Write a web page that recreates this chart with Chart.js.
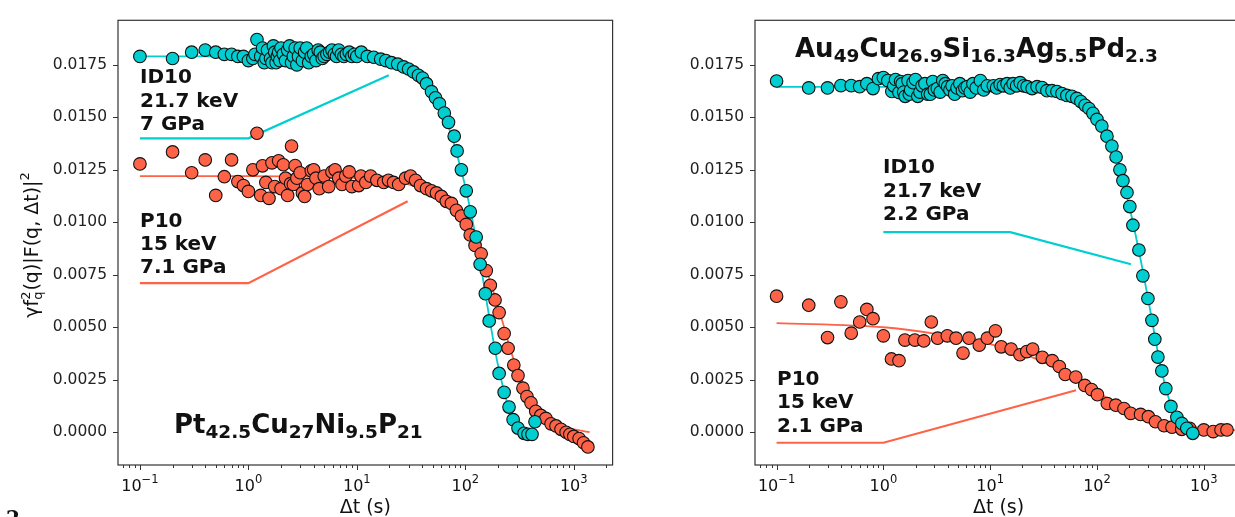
<!DOCTYPE html>
<html>
<head>
<meta charset="utf-8">
<script src="https://cdn.jsdelivr.net/npm/chart.js@4.4.1/dist/chart.umd.min.js"></script>
<style>
    html, body { margin: 0; padding: 0; background: #fff; overflow: hidden; }
    body { width: 1235px; height: 517px; position: relative; }
    #leftChart { position: absolute; left: 0; top: 0; }
    #rightChart { position: absolute; left: 620px; top: 0; }
</style>
</head>
<body>
<canvas id="leftChart" width="620" height="517" style="width:620px;height:517px"></canvas>
<canvas id="rightChart" width="635" height="517" style="width:635px;height:517px"></canvas>
<script>
// ========================================
// DATA
// ========================================

// Left panel: Pt42.5Cu27Ni9.5P21, ID10 (cyan)
const leftId10T = [0.1, 0.2, 0.3, 0.4, 0.5, 0.6, 0.7, 0.8, 0.9, 1.0, 1.1, 1.15, 1.2, 1.3, 1.35, 1.4, 1.45, 1.5, 1.6, 1.65,
    1.7, 1.75, 1.8, 1.85, 1.9, 1.95, 2.0, 2.1, 2.2, 2.3, 2.4, 2.5, 2.6, 2.7, 2.8, 2.9, 3.0, 3.15, 3.3, 3.45,
    3.6, 3.8, 4.0, 4.2, 4.4, 4.6, 4.8, 5.0, 5.3, 5.6, 5.9, 6.2, 6.5, 6.8, 7.2, 7.6, 8.0, 8.5, 9.0, 9.5,
    10, 11, 12.5, 14.3, 16.6, 18.5, 20.9, 23.8, 27.0, 30.0, 33.3, 37.0, 40.3, 43.9, 48.8, 53.1, 57.7, 64, 70, 79,
    84, 92, 102, 111, 126, 137, 153, 166, 189, 205, 228, 253, 276, 306, 348, 378, 412, 439];
const leftId10V = [0.0179, 0.0178, 0.0181, 0.0182, 0.0181, 0.0180, 0.0180, 0.0179, 0.0179, 0.0177, 0.0178, 0.0180, 0.0187, 0.0179, 0.0183, 0.0176, 0.0178, 0.0182, 0.0178, 0.0176,
    0.0184, 0.0181, 0.0176, 0.0179, 0.0181, 0.0177, 0.0183, 0.0180, 0.0177, 0.0182, 0.0184, 0.0176, 0.0179, 0.0183, 0.0175, 0.0179, 0.0183, 0.0177, 0.0181, 0.0183,
    0.0176, 0.0179, 0.0180, 0.0177, 0.0182, 0.0181, 0.0178, 0.0179, 0.0180, 0.0181, 0.0182, 0.0180, 0.0179, 0.0182, 0.0180, 0.0179, 0.0180, 0.0181, 0.0179, 0.0180,
    0.0179, 0.0181, 0.0179, 0.01786, 0.01777, 0.0177, 0.0176, 0.01753, 0.0174, 0.0173, 0.01716, 0.0170, 0.01687, 0.0166, 0.01622, 0.01593, 0.01565, 0.0152, 0.01476, 0.0141,
    0.0134, 0.0125, 0.0115, 0.0105, 0.0093, 0.0080, 0.0066, 0.0053, 0.0040, 0.0028, 0.0019, 0.0012, 0.0006, 0.0002, -0.00005, -0.0001, -0.0001, 0.0005];

// Left panel: P10 (orange)
const leftP10T = [0.1, 0.2, 0.3, 0.4, 0.5, 0.6, 0.7, 0.8, 0.9, 1.0, 1.1, 1.2, 1.3, 1.35, 1.45, 1.55, 1.65, 1.75, 1.9, 2.0,
    2.1, 2.2, 2.3, 2.45, 2.5, 2.6, 2.7, 2.8, 3.0, 3.15, 3.3, 3.5, 3.8, 4.0, 4.2, 4.5, 5.0, 5.5, 5.9, 6.3,
    6.8, 7.3, 7.9, 8.5, 9.0, 10.4, 10.9, 12.1, 13.4, 15.3, 17.7, 19.6, 21.8, 24.3, 28.1, 31.3, 34.8, 38.6, 43.9, 48.8,
    54.2, 60.2, 66.8, 74.5, 82.7, 92, 102, 111, 123, 140, 156, 170, 188, 205, 228, 248, 280, 306, 340, 370,
    403, 446, 497, 553, 617, 686, 763, 850, 920, 1000, 1120, 1230, 1350];
const leftP10V = [0.01278, 0.01335, 0.01236, 0.01297, 0.01128, 0.01217, 0.01297, 0.01194, 0.01175, 0.01147, 0.01250, 0.01424, 0.01128, 0.01269, 0.0119, 0.01114, 0.01283, 0.0117, 0.01293, 0.0116,
    0.01274, 0.0121, 0.01128, 0.01184, 0.01363, 0.0118, 0.0127, 0.0121, 0.01236, 0.0114, 0.01123, 0.0118, 0.01245, 0.0125, 0.0121, 0.0116, 0.0122, 0.0117, 0.0124, 0.0125,
    0.0121, 0.0118, 0.0122, 0.0124, 0.0117, 0.01175, 0.0122, 0.0119, 0.0122, 0.0120, 0.0119, 0.0120, 0.0119, 0.0118, 0.0121, 0.0122, 0.0120, 0.01175, 0.0116, 0.0115,
    0.0114, 0.01123, 0.0110, 0.0109, 0.01057, 0.0103, 0.0099, 0.0094, 0.0089, 0.0085, 0.0077, 0.0070, 0.0063, 0.0057, 0.0047, 0.0040, 0.0032, 0.0027, 0.0021, 0.0017,
    0.0014, 0.0010, 0.0008, 0.00066, 0.0004, 0.0003, 0.00014, 0.0, -0.0001, -0.0002, -0.0003, -0.0005, -0.0007];

// Left panel fit curves
const leftId10FitT = [0.1, 1, 10, 20, 40, 60, 80, 100, 130, 160, 200, 250, 300, 400, 450];
const leftId10FitV = [0.0179, 0.0179, 0.01785, 0.0177, 0.0168, 0.0155, 0.0136, 0.0117, 0.0088, 0.0060, 0.0032, 0.0012, 0.0003, 0.0, 0.0];
const leftP10FitT = [0.1, 1, 10, 30, 60, 100, 150, 200, 300, 500, 800, 1400];
const leftP10FitV = [0.0122, 0.0122, 0.0121, 0.0118, 0.0111, 0.0099, 0.0080, 0.0060, 0.0030, 0.0010, 0.0003, 0.0];

// Left panel leader lines
const leftId10LeadT = [0.1, 1.0, 19.7];
const leftId10LeadV = [0.0140, 0.0140, 0.0170];
const leftP10LeadT = [0.1, 1.0, 29.4];
const leftP10LeadV = [0.0071, 0.0071, 0.0110];

// Right panel: Au49Cu26.9Si16.3Ag5.5Pd2.3, ID10 (cyan)
const rightId10T = [0.1, 0.2, 0.3, 0.4, 0.5, 0.6, 0.7, 0.8, 0.9, 1.0, 1.1, 1.2, 1.25, 1.3, 1.4, 1.45, 1.5, 1.55, 1.6, 1.7,
    1.75, 1.8, 1.9, 2.0, 2.1, 2.2, 2.3, 2.45, 2.6, 2.75, 2.9, 3.0, 3.2, 3.4, 3.6, 3.8, 4.0, 4.2, 4.4, 4.65,
    4.9, 5.2, 5.5, 5.8, 6.1, 6.5, 6.9, 7.4, 8.1, 8.7, 9.4, 10.7, 11.5, 12.4, 13.3, 14.4, 15.4, 16.4, 17.7, 19.1,
    20.6, 22.2, 24.7, 27.5, 30.6, 34, 37.9, 42.2, 47, 52.3, 58.2, 64.8, 70.7, 77.5, 84.2, 91.7, 100, 111, 124, 138,
    151, 164, 175, 191, 203, 217, 247, 269, 300, 327, 348, 372, 405, 441, 492, 560, 623, 694, 789];
const rightId10V = [0.01673, 0.0164, 0.0164, 0.01651, 0.01651, 0.01646, 0.0166, 0.01637, 0.01684, 0.01689, 0.01675, 0.01623, 0.0165, 0.0168, 0.01618, 0.0167, 0.0166, 0.0162, 0.0160, 0.01675,
    0.0161, 0.0163, 0.01665, 0.0168, 0.0160, 0.0162, 0.0165, 0.0166, 0.0161, 0.0161, 0.0167, 0.0163, 0.01637, 0.0162, 0.01675, 0.0166, 0.01646, 0.0163, 0.0165, 0.0161,
    0.0164, 0.0166, 0.01627, 0.0164, 0.01646, 0.0162, 0.0166, 0.0164, 0.01675, 0.0163, 0.0165, 0.0165, 0.0164, 0.01656, 0.0165, 0.0166, 0.0164, 0.0166, 0.0165, 0.01665,
    0.0165, 0.01646, 0.01637, 0.01646, 0.01642, 0.01627, 0.01627, 0.01623, 0.01613, 0.01604, 0.0160, 0.0159, 0.01575, 0.01557, 0.01542, 0.01519, 0.0149, 0.01458, 0.0141, 0.01363,
    0.01311, 0.0125, 0.01198, 0.01142, 0.01075, 0.00986, 0.00868, 0.00745, 0.00637, 0.00533, 0.00443, 0.00358, 0.00292, 0.00208, 0.00123, 0.00071, 0.00042, 0.00019, -0.00005];

// Right panel: P10 (orange)
const rightP10T = [0.1, 0.2, 0.3, 0.4, 0.5, 0.6, 0.7, 0.8, 1.0, 1.19, 1.40, 1.59, 1.97, 2.39, 2.81, 3.22, 3.97, 4.79, 5.57, 6.33,
    7.9, 9.4, 11.2, 12.7, 15.7, 19.0, 22.0, 25.0, 30.8, 38.1, 44.4, 50.4, 63.3, 76.9, 88.9, 101, 125, 150, 179, 207,
    256, 303, 353, 425, 504, 622, 738, 1000, 1225, 1450, 1650];
const rightP10V = [0.00648, 0.00605, 0.00451, 0.00621, 0.00472, 0.00525, 0.00585, 0.00541, 0.00459, 0.00349, 0.00341, 0.00439, 0.00439, 0.00435, 0.00525, 0.00448, 0.00459, 0.00448, 0.00377, 0.00448,
    0.00415, 0.00448, 0.00483, 0.00407, 0.00396, 0.00369, 0.00384, 0.00396, 0.00357, 0.00341, 0.00313, 0.00275, 0.00263, 0.00223, 0.00203, 0.00179, 0.00137, 0.00129, 0.00113, 0.0009,
    0.00085, 0.00074, 0.0005, 0.00031, 0.00024, 0.00014, 0.00019, 0.00011, 0.00003, 0.00011, 0.00011];

// Right panel fit curves
const rightId10FitT = [0.1, 1, 10, 30, 60, 100, 150, 200, 250, 300, 400, 500, 600, 800];
const rightId10FitV = [0.01645, 0.01645, 0.01643, 0.0162, 0.0158, 0.0150, 0.0132, 0.0108, 0.0085, 0.0064, 0.0030, 0.0012, 0.0004, 0.0];
const rightP10FitT = [0.1, 1, 3, 10, 30, 100, 300, 1000, 2000];
const rightP10FitV = [0.0052, 0.0050, 0.0047, 0.0042, 0.0034, 0.0019, 0.0007, 0.0002, 0.0001];

// Right panel leader lines
const rightId10LeadT = [1.0, 15.4, 208];
const rightId10LeadV = [0.00953, 0.00953, 0.0080];
const rightP10LeadT = [0.1, 1.0, 63.7];
const rightP10LeadV = [-0.0005, -0.0005, 0.0020];

// Axes
const yTicks = [0, 0.0025, 0.005, 0.0075, 0.01, 0.0125, 0.015, 0.0175];
const yTickLabels = ['0.0000', '0.0025', '0.0050', '0.0075', '0.0100', '0.0125', '0.0150', '0.0175'];
const xTicks = [0.1, 1, 10, 100, 1000];
const xTickExps = ['\u22121', '0', '1', '2', '3'];

// ========================================
// STYLE
// ========================================

const CYAN = '#00CED1';
const ORANGE = '#FF6347';
const FONT = '"DejaVu Sans", sans-serif';
const X_MIN = 0.0628, X_MAX = 2280;
const Y_MIN = -0.00156, Y_MAX = 0.01962;

const toPts = (ts, vs) => ts.map((t, i) => ({ x: t, y: vs[i] }));

const pointSet = (data, color) => ({
    data, showLine: false,
    backgroundColor: color, borderColor: '#111', borderWidth: 1.1,
    pointRadius: 6.3, pointHoverRadius: 6.3
});

const lineSet = (data, color, width, smooth) => ({
    data, showLine: true, pointRadius: 0, fill: false,
    borderColor: color, borderWidth: width,
    cubicInterpolationMode: smooth ? 'monotone' : 'default', tension: 0
});

// draw a run of text pieces with their own font and vertical shift
const drawRich = (ctx, parts, x, y, align) => {
    let total = 0;
    parts.forEach(p => { ctx.font = p.font; p.w = ctx.measureText(p.t).width; total += p.w; });
    let cx = align === 'center' ? x - total / 2 : x;
    ctx.textAlign = 'left';
    parts.forEach(p => {
        ctx.font = p.font;
        ctx.fillText(p.t, cx, y + (p.dy || 0));
        cx += p.w;
    });
};

const subParts = (pairs, big, small, dy) => pairs.map(([t, isSub]) => ({
    t, font: isSub ? `bold ${small}px ${FONT}` : `bold ${big}px ${FONT}`, dy: isSub ? dy : 0
}));

// ========================================
// PANEL DECORATION PLUGIN
// ========================================

const panelDeco = {
    id: 'panelDeco',
    afterDraw(chart, args, o) {
        const { ctx, chartArea: a, scales: { x, y } } = chart;
        ctx.save();
        ctx.fillStyle = '#111';
        ctx.strokeStyle = '#333';

        // frame
        ctx.lineWidth = 1.2;
        ctx.strokeRect(a.left, a.top, a.right - a.left, a.bottom - a.top);

        // y ticks
        ctx.lineWidth = 1;
        ctx.beginPath();
        yTicks.forEach(v => {
            const py = Math.round(y.getPixelForValue(v)) + 0.5;
            ctx.moveTo(a.left - 5, py); ctx.lineTo(a.left, py);
        });
        // x major + minor ticks
        xTicks.forEach(v => {
            const px = Math.round(x.getPixelForValue(v)) + 0.5;
            ctx.moveTo(px, a.bottom); ctx.lineTo(px, a.bottom + 5);
        });
        [0.01, 0.1, 1, 10, 100, 1000].forEach(d => {
            for (let m = 2; m <= 9; m++) {
                const v = d * m;
                if (v < X_MIN || v > X_MAX) continue;
                const px = Math.round(x.getPixelForValue(v)) + 0.5;
                ctx.moveTo(px, a.bottom); ctx.lineTo(px, a.bottom + 3);
            }
        });
        ctx.stroke();

        // x tick labels 10^n
        ctx.textBaseline = 'alphabetic';
        xTicks.forEach((v, i) => {
            const px = x.getPixelForValue(v);
            drawRich(ctx, [
                { t: '10', font: `16px ${FONT}` },
                { t: xTickExps[i], font: `11.5px ${FONT}`, dy: -8 }
            ], px, 491, 'center');
        });

        // x axis title
        ctx.font = `19px ${FONT}`;
        ctx.textAlign = 'center';
        ctx.fillText('\u0394t (s)', (a.left + a.right) / 2, 513);

        // annotation blocks
        ctx.font = `bold 20px ${FONT}`;
        ctx.textAlign = 'left';
        o.blocks.forEach(b => b.lines.forEach((s, i) => ctx.fillText(s, b.x, b.y[i])));

        // alloy title
        drawRich(ctx, subParts(o.title.parts, 26, 18.5, 4.5), o.title.x, o.title.y, 'left');

        // y axis title (left panel only)
        if (o.yTitle) {
            ctx.translate(o.yTitle.x, o.yTitle.y);
            ctx.rotate(-Math.PI / 2);
            const f = `19px ${FONT}`, s = `13px ${FONT}`;
            ctx.font = f;
            const w1 = ctx.measureText('\u03b3f').width;
            const w2 = ctx.measureText('(q)|F(q, \u0394t)|').width;
            ctx.font = s;
            const ws = ctx.measureText('2').width;
            const total = w1 + ws + 1 + w2 + ws;
            let cx = -total / 2;
            ctx.textAlign = 'left';
            ctx.font = f; ctx.fillText('\u03b3f', cx, 7); cx += w1;
            ctx.font = s; ctx.fillText('2', cx, -1); ctx.fillText('q', cx, 11); cx += ws + 1;
            ctx.font = f; ctx.fillText('(q)|F(q, \u0394t)|', cx, 7); cx += w2;
            ctx.font = s; ctx.fillText('2', cx, -2);
            ctx.setTransform(1, 0, 0, 1, 0, 0);
            // cut-off caption digit in the corner
            ctx.font = `bold 20px "DejaVu Serif", serif`;
            ctx.fillText('2', 6, 525);
        }
        ctx.restore();
    }
};

// ========================================
// CHART FACTORY
// ========================================

const makePanel = (id, cfg) => new Chart(document.getElementById(id), {
    type: 'scatter',
    data: {
        datasets: [
            pointSet(toPts(cfg.idT, cfg.idV), CYAN),
            pointSet(toPts(cfg.pT, cfg.pV), ORANGE),
            lineSet(toPts(cfg.idLeadT, cfg.idLeadV), CYAN, 2.2, false),
            lineSet(toPts(cfg.pLeadT, cfg.pLeadV), ORANGE, 2.2, false),
            lineSet(toPts(cfg.idFitT, cfg.idFitV), CYAN, 1.8, true),
            lineSet(toPts(cfg.pFitT, cfg.pFitV), ORANGE, 1.8, true)
        ]
    },
    options: {
        responsive: false,
        animation: false,
        events: [],
        layout: { padding: { left: 0, top: 16, right: cfg.padRight, bottom: 0 } },
        plugins: {
            legend: { display: false },
            tooltip: { enabled: false },
            panelDeco: { blocks: cfg.blocks, title: cfg.title, yTitle: cfg.yTitle }
        },
        scales: {
            x: {
                type: 'logarithmic', min: X_MIN, max: X_MAX,
                grid: { display: false, drawTicks: false },
                border: { display: false },
                ticks: { display: false },
                afterFit: (s) => { s.height = 52; }
            },
            y: {
                type: 'linear', min: Y_MIN, max: Y_MAX,
                grid: { display: false, drawTicks: false },
                border: { display: false },
                afterBuildTicks: (s) => { s.ticks = yTicks.map(v => ({ value: v })); },
                ticks: {
                    padding: 11,
                    color: '#222',
                    font: { family: 'DejaVu Sans', size: 15.5 },
                    callback: (v) => yTickLabels[yTicks.findIndex(t => Math.abs(t - v) < 1e-9)] ?? ''
                },
                afterFit: (s) => { s.width = cfg.yAxisWidth; }
            }
        }
    },
    plugins: [panelDeco]
});

makePanel('leftChart', {
    idT: leftId10T, idV: leftId10V, pT: leftP10T, pV: leftP10V,
    idFitT: leftId10FitT, idFitV: leftId10FitV, pFitT: leftP10FitT, pFitV: leftP10FitV,
    idLeadT: leftId10LeadT, idLeadV: leftId10LeadV, pLeadT: leftP10LeadT, pLeadV: leftP10LeadV,
    yAxisWidth: 118, padRight: 5,
    blocks: [
        { x: 140, y: [83, 107, 130], lines: ['ID10', '21.7 keV', '7 GPa'] },
        { x: 140, y: [227, 250, 273], lines: ['P10', '15 keV', '7.1 GPa'] }
    ],
    title: { x: 174, y: 433, parts: [['Pt', 0], ['42.5', 1], ['Cu', 0], ['27', 1], ['Ni', 0], ['9.5', 1], ['P', 0], ['21', 1]] },
    yTitle: { x: 31, y: 245 }
});

makePanel('rightChart', {
    idT: rightId10T, idV: rightId10V, pT: rightP10T, pV: rightP10V,
    idFitT: rightId10FitT, idFitV: rightId10FitV, pFitT: rightP10FitT, pFitV: rightP10FitV,
    idLeadT: rightId10LeadT, idLeadV: rightId10LeadV, pLeadT: rightP10LeadT, pLeadV: rightP10LeadV,
    yAxisWidth: 135, padRight: 13,
    blocks: [
        { x: 263, y: [173, 197, 220], lines: ['ID10', '21.7 keV', '2.2 GPa'] },
        { x: 157, y: [385, 408, 432], lines: ['P10', '15 keV', '2.1 GPa'] }
    ],
    title: { x: 175, y: 57, parts: [['Au', 0], ['49', 1], ['Cu', 0], ['26.9', 1], ['Si', 0], ['16.3', 1], ['Ag', 0], ['5.5', 1], ['Pd', 0], ['2.3', 1]] },
    yTitle: null
});
</script>
</body>
</html>
